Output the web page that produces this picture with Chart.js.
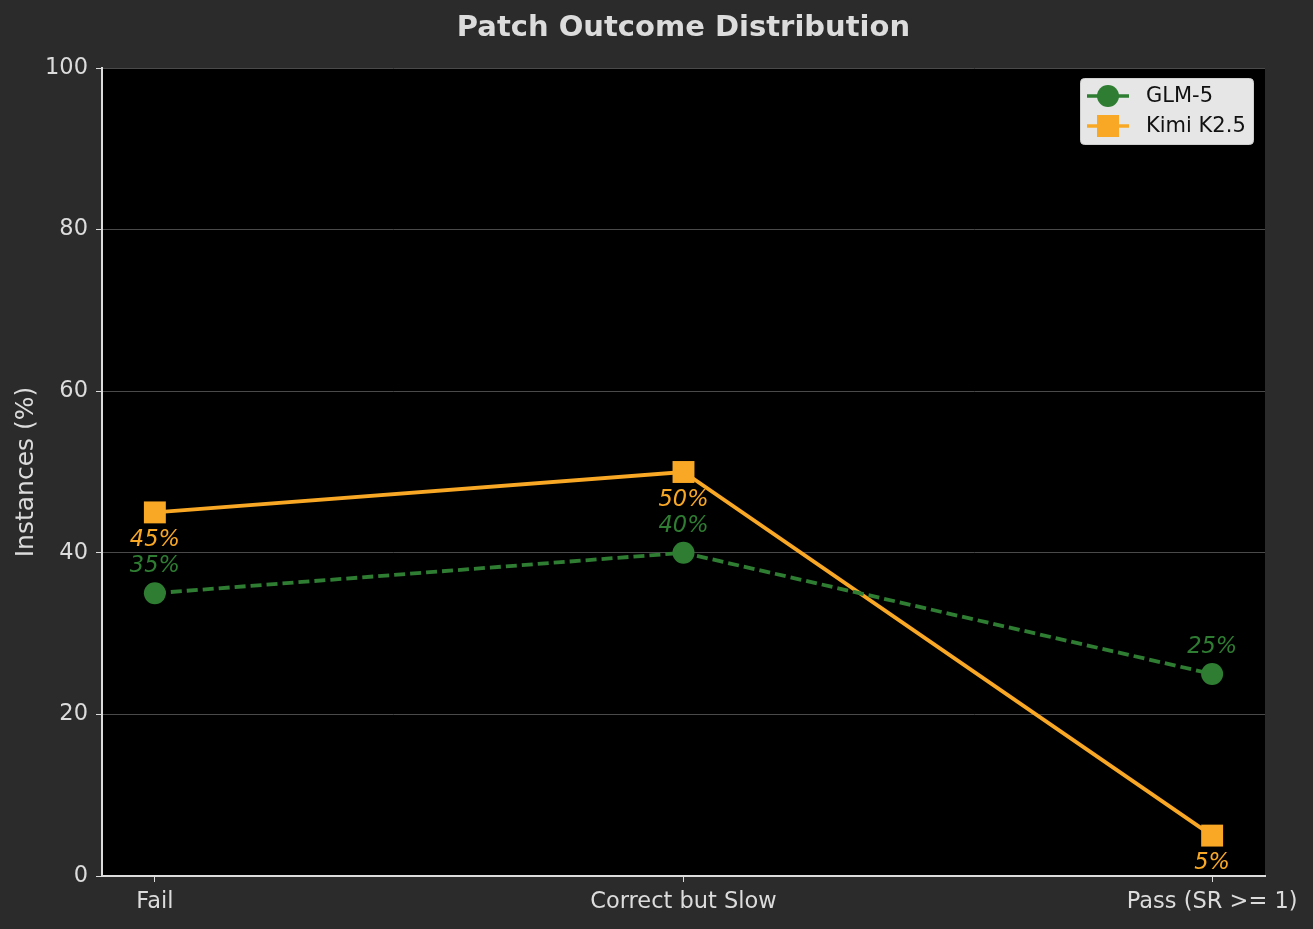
<!DOCTYPE html>
<html><head><meta charset="utf-8">
<script src="https://cdn.jsdelivr.net/npm/chart.js@4"></script>
<style>html,body{margin:0;padding:0;background:#2b2b2b;}#wrap{width:1313px;height:929px;}</style>
</head><body><div id="wrap"><canvas id="c" width="1313" height="929"></canvas></div>
<script>
const categories = ["Fail", "Correct but Slow", "Pass (SR >= 1)"];
const glmValues = [35, 40, 25];
const kimiValues = [45, 50, 5];
const yTicks = [0, 20, 40, 60, 80, 100];
const seriesNames = ["GLM-5", "Kimi K2.5"];

const GREEN = "#2e7d32", ORANGE = "#f9a825", TXT = "#dcdcdc";
const FONT = "'DejaVu Sans', sans-serif";

const bgPlugin = {
  id: "bg",
  beforeDraw(chart) {
    const {ctx, chartArea: a} = chart;
    ctx.save();
    ctx.fillStyle = "#2b2b2b";
    ctx.fillRect(0, 0, chart.width, chart.height);
    ctx.fillStyle = "#000";
    ctx.fillRect(a.left, a.top, a.right - a.left, a.bottom - a.top);
    ctx.restore();
  },
  afterDraw(chart) {
    const {ctx, chartArea: a} = chart;
    ctx.save();
    // title
    ctx.fillStyle = TXT;
    ctx.font = "bold 29px " + FONT;
    ctx.textAlign = "center";
    ctx.textBaseline = "middle";
    ctx.fillText("Patch Outcome Distribution", (a.left + a.right) / 2, 28);
    // y title
    ctx.translate(26, (a.top + a.bottom) / 2);
    ctx.rotate(-Math.PI / 2);
    ctx.font = "25px " + FONT;
    ctx.fillText("Instances (%)", 0, 0);
    ctx.restore();

    // data labels
    ctx.save();
    ctx.font = "italic 22.5px " + FONT;
    ctx.textAlign = "center";
    ctx.textBaseline = "middle";
    chart.data.datasets.forEach((ds, i) => {
      const meta = chart.getDatasetMeta(i);
      meta.data.forEach((pt, j) => {
        ctx.fillStyle = ds.borderColor;
        const off = i === 0 ? -27 : 28;
        ctx.fillText(ds.data[j].y + "%", pt.x, pt.y + off);
      });
    });
    ctx.restore();

    // legend
    ctx.save();
    const lx = 1080, ly = 78, lw = 173, lh = 66;
    ctx.fillStyle = "#e6e6e6";
    ctx.strokeStyle = "#cfcfcf";
    ctx.lineWidth = 1;
    ctx.beginPath();
    ctx.roundRect(lx + 0.5, ly + 0.5, lw, lh, 4);
    ctx.fill(); ctx.stroke();
    const rows = [
      {name: seriesNames[0], color: GREEN, shape: "circle", y: 96},
      {name: seriesNames[1], color: ORANGE, shape: "square", y: 126}
    ];
    rows.forEach(r => {
      ctx.strokeStyle = r.color;
      ctx.lineWidth = 3.5;
      ctx.beginPath();
      ctx.moveTo(1087, r.y); ctx.lineTo(1129, r.y); ctx.stroke();
      ctx.fillStyle = r.color;
      if (r.shape === "circle") {
        ctx.beginPath(); ctx.arc(1108, r.y, 11, 0, Math.PI * 2); ctx.fill();
      } else {
        ctx.fillRect(1097, r.y - 11, 22, 22);
      }
      ctx.fillStyle = "#111";
      ctx.font = "21px " + FONT;
      ctx.textAlign = "left";
      ctx.textBaseline = "middle";
      ctx.fillText(r.name, 1146, r.y + 1);
    });
    ctx.restore();
  }
};

const toXY = vals => vals.map((v, i) => ({x: i, y: v}));

new Chart(document.getElementById("c"), {
  type: "line",
  data: {
    datasets: [
      {
        label: seriesNames[0], data: toXY(glmValues),
        borderColor: GREEN, backgroundColor: GREEN, borderWidth: 3.8,
        borderDash: [11, 5], pointStyle: "circle", pointRadius: 11,
        pointHoverRadius: 11, pointBorderWidth: 0, tension: 0
      },
      {
        label: seriesNames[1], data: toXY(kimiValues),
        borderColor: ORANGE, backgroundColor: ORANGE, borderWidth: 3.8,
        pointStyle: "rect", pointRadius: 15.5, pointHoverRadius: 15.5,
        pointBorderWidth: 0, tension: 0
      }
    ]
  },
  options: {
    responsive: false, animation: false, devicePixelRatio: 1,
    layout: {padding: {top: 68, right: 48, left: 0, bottom: 0}},
    plugins: {legend: {display: false}, title: {display: false}, tooltip: {enabled: false}},
    scales: {
      x: {
        type: "linear", min: -0.1, max: 2.1,
        afterBuildTicks: s => { s.ticks = categories.map((c, i) => ({value: i})); },
        afterFit: s => { s.height = 53; },
        ticks: {color: TXT, font: {family: FONT, size: 22.5}, padding: 7,
          callback: v => categories[v], maxRotation: 0, autoSkip: false},
        grid: {color: "transparent", tickColor: TXT, tickLength: 6, drawOnChartArea: false},
        border: {color: TXT, width: 2}
      },
      y: {
        min: 0, max: 100,
        afterBuildTicks: s => { s.ticks = yTicks.map(v => ({value: v})); },
        afterFit: s => { s.width = 102; },
        ticks: {color: TXT, font: {family: FONT, size: 22.5}, padding: 8},
        grid: {color: "#4a4a4a", lineWidth: 1, tickColor: TXT, tickLength: 6},
        border: {color: TXT, width: 2}
      }
    }
  },
  plugins: [bgPlugin]
});
</script></body></html>
